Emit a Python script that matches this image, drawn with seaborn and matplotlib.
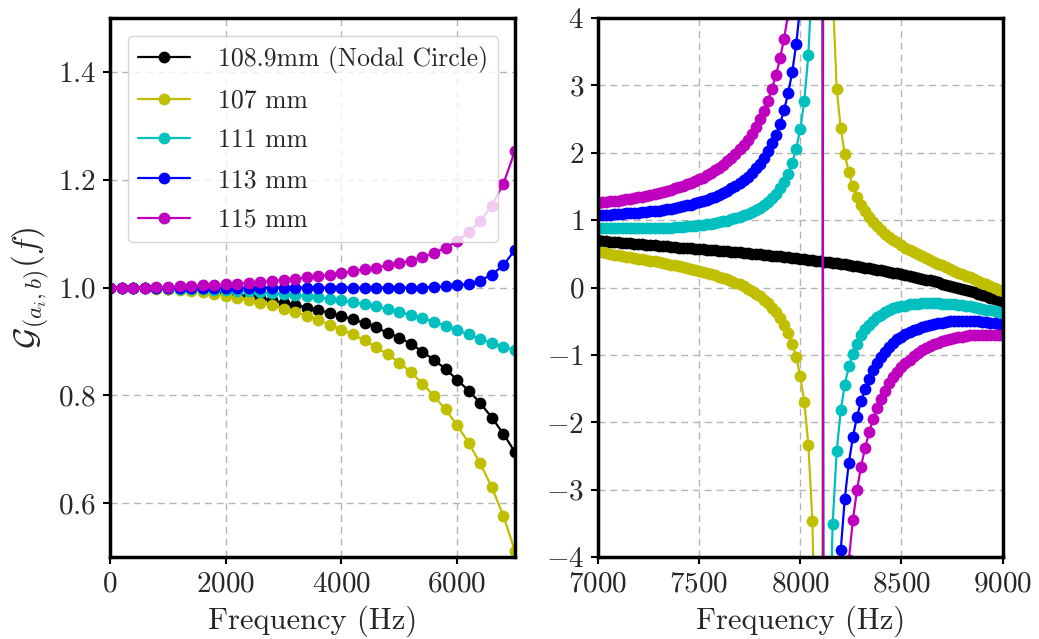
"""
Transfer function G(f) for several radii: low band and resonance band.
"""
import numpy as np
import matplotlib
matplotlib.use("Agg")
import matplotlib.pyplot as plt
import seaborn as sns

# frequency grids (Hz)
freq_low = np.arange(0, 7001, 200)
freq_high = np.arange(7000, 9001, 20)

labels = ['108.9mm (Nodal Circle)', '107 mm', '111 mm', '113 mm', '115 mm']
colors = ['#000000', '#bfbf00', '#00bfbf', '#0000ff', '#bf00bf']

# ---- left panel, 0 - 7000 Hz ----
black_low = [1.000, 1.000, 1.000, 0.999, 0.999, 0.998, 0.997, 0.996, 0.994, 0.992,
             0.990, 0.987, 0.984, 0.980, 0.976, 0.972, 0.968, 0.963, 0.958, 0.953,
             0.947, 0.941, 0.934, 0.926, 0.916, 0.907, 0.896, 0.881, 0.866, 0.849,
             0.829, 0.809, 0.786, 0.759, 0.729, 0.695]
yellow_low = [1.000, 1.000, 0.999, 0.999, 0.998, 0.997, 0.995, 0.993, 0.991, 0.988,
              0.985, 0.981, 0.977, 0.972, 0.967, 0.961, 0.955, 0.948, 0.940, 0.931,
              0.922, 0.913, 0.902, 0.889, 0.876, 0.861, 0.843, 0.822, 0.799, 0.774,
              0.745, 0.712, 0.674, 0.630, 0.577, 0.512]
cyan_low = [1.000, 1.000, 1.000, 1.000, 0.999, 0.999, 0.998, 0.998, 0.997, 0.996,
            0.995, 0.994, 0.993, 0.991, 0.990, 0.988, 0.986, 0.984, 0.982, 0.979,
            0.976, 0.973, 0.969, 0.965, 0.960, 0.955, 0.949, 0.943, 0.937, 0.929,
            0.921, 0.913, 0.905, 0.897, 0.890, 0.885]
blue_low = [1.000, 1.000, 1.000, 1.000, 1.000, 1.000, 1.000, 1.000, 1.000, 1.000,
            1.000, 1.000, 1.000, 1.000, 1.000, 1.000, 1.000, 1.000, 1.000, 1.000,
            1.000, 1.000, 1.000, 1.000, 1.000, 1.000, 1.000, 1.000, 1.001, 1.002,
            1.004, 1.007, 1.013, 1.024, 1.041, 1.070]
magenta_low = [1.000, 1.000, 1.000, 1.000, 1.001, 1.001, 1.002, 1.003, 1.004, 1.005,
               1.006, 1.007, 1.009, 1.010, 1.012, 1.014, 1.016, 1.019, 1.021, 1.024,
               1.027, 1.030, 1.034, 1.037, 1.041, 1.045, 1.050, 1.056, 1.064, 1.074,
               1.086, 1.103, 1.123, 1.152, 1.192, 1.253]

# ---- right panel, 7000 - 9000 Hz ----
black_high = [0.700, 0.694, 0.688, 0.682, 0.676, 0.671, 0.665, 0.660, 0.654, 0.649,
              0.644, 0.639, 0.634, 0.629, 0.624, 0.619, 0.614, 0.609, 0.604, 0.599,
              0.594, 0.589, 0.585, 0.580, 0.575, 0.570, 0.565, 0.561, 0.556, 0.551,
              0.545, 0.540, 0.535, 0.530, 0.525, 0.520, 0.515, 0.509, 0.504, 0.498,
              0.492, 0.487, 0.481, 0.475, 0.469, 0.463, 0.457, 0.450, 0.444, 0.437,
              0.430, 0.423, 0.416, 0.409, 0.401, 0.394, 0.386, 0.378, 0.370, 0.361,
              0.353, 0.344, 0.335, 0.326, 0.316, 0.307, 0.297, 0.287, 0.276, 0.266,
              0.255, 0.244, 0.233, 0.221, 0.210, 0.198, 0.185, 0.172, 0.159, 0.146,
              0.133, 0.119, 0.105, 0.090, 0.075, 0.060, 0.045, 0.029, 0.013, -0.004,
              -0.021, -0.038, -0.056, -0.073, -0.092, -0.111, -0.130, -0.149, -0.169, -0.189,
              -0.210]
yellow_high = [0.52, 0.52, 0.51, 0.50, 0.49, 0.48, 0.47, 0.46, 0.45, 0.44,
               0.43, 0.42, 0.41, 0.40, 0.39, 0.38, 0.37, 0.35, 0.34, 0.33,
               0.32, 0.30, 0.29, 0.28, 0.26, 0.25, 0.23, 0.22, 0.20, 0.18,
               0.16, 0.14, 0.12, 0.10, 0.07, 0.05, 0.02, -0.02, -0.05, -0.09,
               -0.13, -0.18, -0.23, -0.30, -0.37, -0.45, -0.55, -0.68, -0.83, -1.03,
               -1.31, -1.70, -2.33, -3.46, -6.2, -22.7, 15.7, 6.1, 4.4, 2.95,
               2.36, 1.98, 1.71, 1.50, 1.35, 1.23, 1.13, 1.05, 0.97, 0.91,
               0.85, 0.80, 0.75, 0.71, 0.67, 0.63, 0.59, 0.56, 0.53, 0.50,
               0.47, 0.44, 0.41, 0.38, 0.35, 0.33, 0.30, 0.28, 0.25, 0.22,
               0.20, 0.17, 0.15, 0.12, 0.10, 0.07, 0.05, 0.02, 0.00, -0.03,
               -0.05]
cyan_high = [0.89, 0.89, 0.89, 0.89, 0.89, 0.88, 0.88, 0.88, 0.88, 0.88,
             0.88, 0.88, 0.88, 0.88, 0.89, 0.89, 0.89, 0.89, 0.89, 0.90,
             0.90, 0.90, 0.91, 0.92, 0.92, 0.93, 0.93, 0.94, 0.95, 0.96,
             0.97, 0.98, 0.99, 1.01, 1.03, 1.05, 1.07, 1.09, 1.12, 1.15,
             1.18, 1.22, 1.27, 1.33, 1.39, 1.47, 1.57, 1.69, 1.85, 2.06,
             2.35, 2.77, 3.45, 4.69, 7.7, 25.9, -16.6, -5.95, -3.51, -2.43,
             -1.82, -1.44, -1.17, -0.98, -0.83, -0.71, -0.62, -0.55, -0.49, -0.44,
             -0.40, -0.37, -0.34, -0.31, -0.29, -0.28, -0.27, -0.25, -0.25, -0.24,
             -0.23, -0.23, -0.23, -0.23, -0.23, -0.24, -0.24, -0.24, -0.25, -0.26,
             -0.26, -0.27, -0.28, -0.29, -0.30, -0.32, -0.33, -0.34, -0.35, -0.37,
             -0.38]
blue_high = [1.08, 1.08, 1.08, 1.08, 1.09, 1.09, 1.09, 1.10, 1.10, 1.10,
             1.11, 1.12, 1.12, 1.13, 1.14, 1.14, 1.15, 1.16, 1.17, 1.18,
             1.19, 1.21, 1.22, 1.23, 1.25, 1.27, 1.28, 1.30, 1.33, 1.35,
             1.37, 1.40, 1.43, 1.47, 1.50, 1.55, 1.59, 1.64, 1.70, 1.77,
             1.84, 1.92, 2.02, 2.14, 2.27, 2.43, 2.63, 2.88, 3.19, 3.61,
             4.18, 5.01, 6.33, 8.76, 14.7, 50.2, -32.7, -12.0, -7.21, -5.09,
             -3.90, -3.13, -2.60, -2.22, -1.92, -1.69, -1.50, -1.35, -1.22, -1.12,
             -1.03, -0.95, -0.88, -0.82, -0.77, -0.73, -0.69, -0.66, -0.63, -0.61,
             -0.58, -0.57, -0.55, -0.54, -0.53, -0.52, -0.51, -0.50, -0.50, -0.50,
             -0.50, -0.50, -0.50, -0.50, -0.50, -0.51, -0.51, -0.52, -0.53, -0.54,
             -0.55]
magenta_high = [1.26, 1.27, 1.27, 1.28, 1.29, 1.29, 1.30, 1.31, 1.32, 1.33,
                1.34, 1.35, 1.36, 1.37, 1.39, 1.40, 1.41, 1.43, 1.45, 1.47,
                1.49, 1.51, 1.53, 1.55, 1.58, 1.61, 1.63, 1.67, 1.70, 1.74,
                1.78, 1.82, 1.87, 1.92, 1.98, 2.05, 2.12, 2.19, 2.28, 2.38,
                2.50, 2.62, 2.77, 2.95, 3.15, 3.40, 3.69, 4.06, 4.54, 5.15,
                6.00, 7.24, 9.22, 12.8, 21.6, 74.5, -48.8, -18.0, -10.9, -7.75,
                -5.97, -4.83, -4.04, -3.45, -3.01, -2.66, -2.38, -2.15, -1.95, -1.79,
                -1.65, -1.53, -1.42, -1.33, -1.25, -1.18, -1.12, -1.07, -1.02, -0.97,
                -0.93, -0.90, -0.87, -0.84, -0.82, -0.80, -0.78, -0.76, -0.75, -0.74,
                -0.73, -0.72, -0.71, -0.71, -0.70, -0.70, -0.70, -0.70, -0.70, -0.71,
                -0.71]

low_series = [black_low, yellow_low, cyan_low, blue_low, magenta_low]
high_series = [black_high, yellow_high, cyan_high, blue_high, magenta_high]

sns.set_theme(style="ticks", color_codes=False)
plt.rcParams.update({
    'font.family': 'serif',
    'font.serif': ['cmr10'],
    'mathtext.fontset': 'cm',
    'axes.formatter.use_mathtext': True,
    'axes.unicode_minus': True,
})

fig, (ax1, ax2) = plt.subplots(1, 2, figsize=(10.39, 6.39), dpi=100)
fig.subplots_adjust(left=0.106, right=0.965, bottom=0.128, top=0.972, wspace=0.205)

line_kw = dict(marker='o', markersize=8.5, markeredgewidth=0, linewidth=1.6)

for vals, lab, col in zip(low_series, labels, colors):
    sns.lineplot(x=freq_low, y=vals, ax=ax1, color=col, label=lab, legend=False, **line_kw)

for vals, col in zip(high_series, colors):
    sns.lineplot(x=freq_high, y=vals, ax=ax2, color=col, legend=False, **line_kw)

ax1.set_xlim(0, 7000)
ax1.set_ylim(0.5, 1.5)
ax1.set_xticks([0, 2000, 4000, 6000])
ax1.set_yticks([0.6, 0.8, 1.0, 1.2, 1.4])
ax1.set_ylabel(r'$\mathcal{G}_{(a_i,b)}(f)$', fontsize=24)

ax2.set_xlim(7000, 9000)
ax2.set_ylim(-4, 4)
ax2.set_xticks([7000, 7500, 8000, 8500, 9000])
ax2.set_yticks(range(-4, 5))
ax2.set_ylabel('')

for ax in (ax1, ax2):
    ax.set_xlabel('Frequency (Hz)', fontsize=22, labelpad=6)
    ax.grid(True, linestyle=(0, (5, 3.5)), color='#b5b5b5', linewidth=1.0)
    ax.set_axisbelow(True)
    ax.tick_params(labelsize=21, direction='out', length=5, width=1.5, color='k', pad=5)
    for sp in ax.spines.values():
        sp.set_linewidth(2.5)
        sp.set_color('k')

ax1.legend(loc='upper left', fontsize=18.5, framealpha=0.8, borderaxespad=0.7,
           labelspacing=0.62, handletextpad=1.1, edgecolor='#cccccc', fancybox=True)

plt.savefig('out.png', dpi=100)
plt.close()
